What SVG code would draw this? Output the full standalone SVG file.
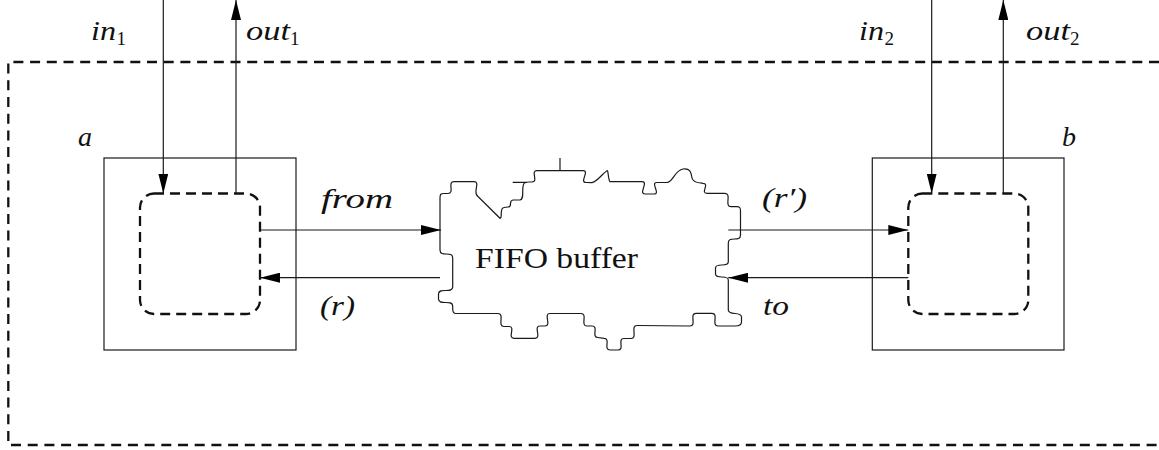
<svg xmlns="http://www.w3.org/2000/svg" width="1159" height="450" viewBox="0 0 1159 450">
<style>
.solid{fill:none;stroke:#1a1a1a;stroke-width:1.2}
.dash{fill:none;stroke:#111;stroke-width:2.3;stroke-dasharray:10 6.7}
.idash{fill:none;stroke:#111;stroke-width:2.3;stroke-dasharray:10 6}
.conn{fill:none;stroke:#1a1a1a;stroke-width:1.2}
.math{font-family:"Liberation Serif",serif;font-style:italic;font-size:28px;fill:#111}
.sub{font-family:"Liberation Serif",serif;font-size:19px;fill:#111;font-style:normal}
.rom{font-family:"Liberation Serif",serif;font-size:30px;fill:#111}
</style>
<defs>
<marker id="ah" markerUnits="userSpaceOnUse" markerWidth="20" markerHeight="10" refX="20" refY="5" orient="auto">
<path d="M0,0 L20,5 L0,10 Z" fill="#000"/>
</marker>
</defs>

<g id="system">
<path class="dash" d="M1159,62 H8.3 V445 H1159"/>
</g>

<g id="node-a">
<rect class="solid" x="104" y="158" width="192" height="192"/>
<rect class="idash" x="140" y="193.5" width="120" height="120.5" rx="14"/>
<text class="math" x="78" y="146">a</text>
</g>

<g id="node-b">
<rect class="solid" x="872.3" y="158" width="191.7" height="192"/>
<rect class="idash" x="908.3" y="193.5" width="120" height="120.5" rx="14"/>
<text class="math" x="1062" y="146">b</text>
</g>

<g id="node-buffer">
<path class="solid" d="M440,250 L440,198 C440,194 441,193.5 444,193.5 L448,193.5 C455,193.5 447,181.7 454,181.7 L474,181.7 C481,181.7 472,193 478,196.5 L500,218.3 C503,218 499,208 504,207.5 L508,207 C513,207 508,200.5 513,200 L520,200 C525,199.5 521,188 524,183.5 C525,182 527,182 529,182 L532,182 C539,182 530,170.7 537,170.7 L583,170.7 C590,170.7 579,182.5 586,182.5 L592,182.7 C598,181 603,173 607,170.7 C608.5,170 608,180 610,181.7 L642,181.7 C649,181.7 638,194 645,194 L654,194 C661,194 650,182.5 657,182.5 L667,182.5 C673,182 675,170 683,169 C690,168 691,172 692,178 C693,183 700,183 703,183.3 C710,183.3 700,193.3 707,193.3 L725,193.3 C732,193.3 724,206.7 731,206.7 L737,206.7 C740,206.7 740.5,208 740.5,211 L740.5,235 C740.5,243 728.3,235 728.3,243 L728.3,262 C728.3,268 715.5,262 715.5,268 L715.5,274 C715.5,280 728.3,274 728.3,280 L728.3,310 C728.3,316 741.5,311 741.5,317 L741.5,322 C741.5,325.5 739,326 735,326 L718,326 C711,326 719,313.3 712,313.3 L696,313.3 C689,313.3 697,326 690,326 L637,325.5 C630,325.5 638,338.5 631,338.5 L624,338.5 C617,338.5 625,350 618,350 L610,350 C603,350 611,338.3 604,338.3 L598,337.5 C591,337.5 599,326 592,326 L587,326 C580,326 588,313.5 581,313.5 L550,313.5 C543,313.5 552,326 545,326 L540,326 C533,326 542,338.3 535,338.3 L514,338.3 C507,338.3 516,326.5 509,326.5 L504,326.5 C497,326.5 505,313.5 498,313.5 L456,313.5 C453.5,313.5 452.7,312 452.7,309 L452.7,306 C452.7,299 438.5,306 438.5,299 L438.5,294 C438.5,287 452.7,294 452.7,287 L452.7,258 C452.7,250 440,258 440,250 Z"/>
<path class="solid" d="M512.7,182.3 H527 M560,158 V170.7"/>
<text class="rom" x="475" y="268.3" textLength="163" lengthAdjust="spacingAndGlyphs">FIFO buffer</text>
</g>

<g id="connectors">
<line class="conn" x1="163.3" y1="0" x2="163.3" y2="193.5" marker-end="url(#ah)"/>
<line class="conn" x1="236" y1="193.5" x2="236" y2="0" marker-end="url(#ah)"/>
<line class="conn" x1="931.7" y1="0" x2="931.7" y2="193.5" marker-end="url(#ah)"/>
<line class="conn" x1="1003.3" y1="193.5" x2="1003.3" y2="0" marker-end="url(#ah)"/>
<line class="conn" x1="260" y1="230" x2="441" y2="230" marker-end="url(#ah)"/>
<line class="conn" x1="440" y1="277.7" x2="260" y2="277.7" marker-end="url(#ah)"/>
<line class="conn" x1="728.3" y1="230" x2="908.3" y2="230" marker-end="url(#ah)"/>
<line class="conn" x1="908.3" y1="277.7" x2="728.3" y2="277.7" marker-end="url(#ah)"/>
</g>

<g id="labels">
<text class="math" x="91" y="40" textLength="25" lengthAdjust="spacingAndGlyphs">in</text>
<text class="sub" x="116.5" y="45">1</text>
<text class="math" x="246" y="40" textLength="44" lengthAdjust="spacingAndGlyphs">out</text>
<text class="sub" x="290" y="45">1</text>
<text class="math" x="859" y="40" textLength="25" lengthAdjust="spacingAndGlyphs">in</text>
<text class="sub" x="884.5" y="45">2</text>
<text class="math" x="1026" y="40" textLength="44" lengthAdjust="spacingAndGlyphs">out</text>
<text class="sub" x="1070" y="45">2</text>
<text class="math" x="321" y="208.3" textLength="72" lengthAdjust="spacingAndGlyphs">from</text>
<text class="math" x="320" y="315" textLength="35" lengthAdjust="spacingAndGlyphs">(<tspan>r</tspan>)</text>
<text class="math" x="762" y="207" textLength="45" lengthAdjust="spacingAndGlyphs">(r′)</text>
<text class="math" x="763" y="315" textLength="26" lengthAdjust="spacingAndGlyphs">to</text>
</g>
</svg>
